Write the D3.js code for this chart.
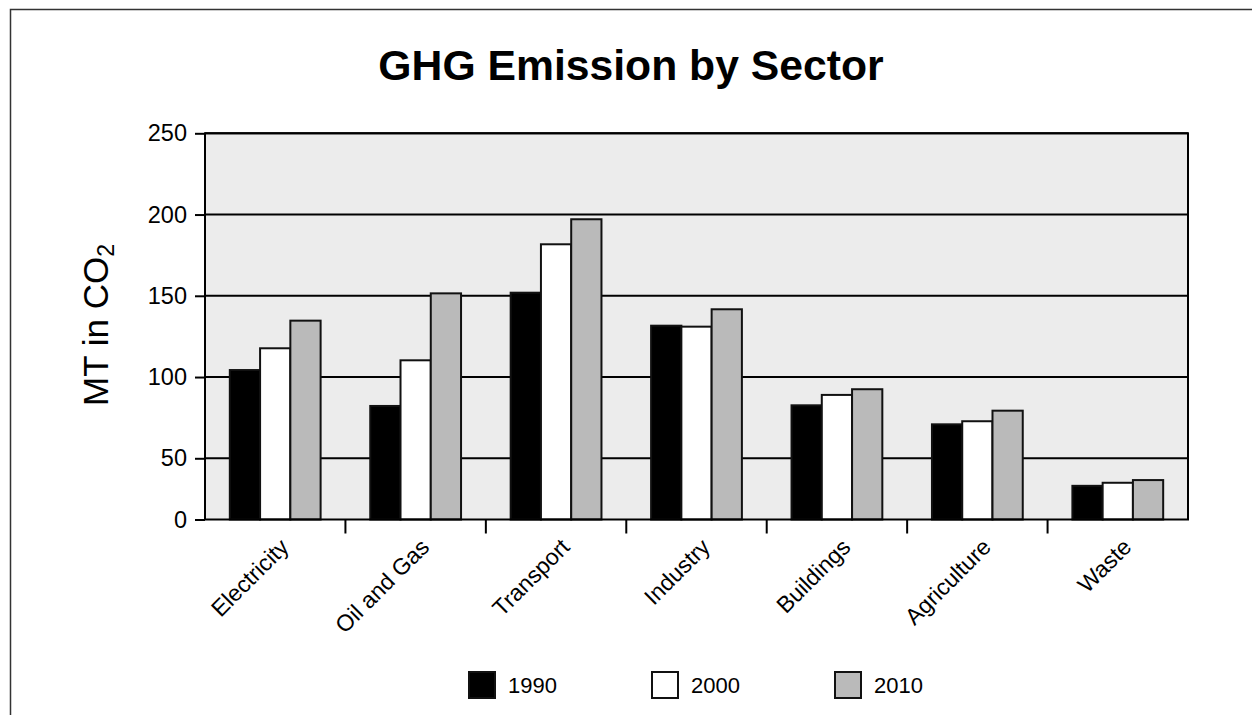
<!DOCTYPE html>
<html>
<head>
<meta charset="utf-8">
<script src="https://cdn.jsdelivr.net/npm/d3@7/dist/d3.min.js"></script>
<style>
  html, body { margin: 0; padding: 0; background: #fff; }
  svg { display: block; font-family: "Liberation Sans", Arial, sans-serif; }
</style>
</head>
<body>
<svg id="chart" width="1252" height="715"></svg>
<script>
// Sectors and emissions (MT CO2) per reference year
const sectors = ["Electricity", "Oil and Gas", "Transport", "Industry", "Buildings", "Agriculture", "Waste"];
const years = ["1990", "2000", "2010"];
const values1990 = [104.3, 82.2, 151.9, 131.6, 82.6, 70.9, 27.5];
const values2000 = [117.7, 110.3, 181.7, 131.0, 89.0, 72.8, 30.0];
const values2010 = [134.7, 151.5, 197.1, 141.7, 92.5, 79.3, 32.2];
const yTicks = [0, 50, 100, 150, 200, 250];

const seriesValues = { "1990": values1990, "2000": values2000, "2010": values2010 };
const fills = { "1990": "#000000", "2000": "#ffffff", "2010": "#bababa" };

const svg = d3.select("#chart");
const W = 1252, H = 715;

// Outer frame (open on the right and bottom edges)
svg.append("path")
  .attr("d", `M10.5,${H} L10.5,9.5 L${W},9.5`)
  .attr("fill", "none")
  .attr("stroke", "#333")
  .attr("stroke-width", 1.5);

const plot = { left: 205, right: 1188, top: 133.3, bottom: 519.5 };
// The lowest interval (0–50) is drawn compressed, so the scale is piecewise
const breakY = plot.bottom - (plot.bottom - plot.top) * 0.1585;

const y = d3.scaleLinear()
  .domain([0, 50, 250])
  .range([plot.bottom, breakY, plot.top]);

const x0 = d3.scaleBand()
  .domain(sectors)
  .range([plot.left, plot.right])
  .paddingInner(0)
  .paddingOuter(0);

const x1 = d3.scaleBand()
  .domain(years)
  .range([0, x0.bandwidth()])
  .paddingInner(0)
  .paddingOuter(0.82);

// Title
svg.append("text")
  .attr("x", 631)
  .attr("y", 80)
  .attr("text-anchor", "middle")
  .attr("font-weight", "bold")
  .attr("font-size", 42.7)
  .attr("fill", "#000")
  .text("GHG Emission by Sector");

// Plot background
svg.append("rect")
  .attr("x", plot.left)
  .attr("y", plot.top)
  .attr("width", plot.right - plot.left)
  .attr("height", plot.bottom - plot.top)
  .attr("fill", "#ececec");

// Horizontal gridlines
svg.append("g")
  .selectAll("line")
  .data(yTicks.filter(d => d > 0))
  .join("line")
  .attr("x1", plot.left)
  .attr("x2", plot.right)
  .attr("y1", d => y(d))
  .attr("y2", d => y(d))
  .attr("stroke", "#000")
  .attr("stroke-width", 2);

// Bars
const groups = svg.append("g")
  .selectAll("g")
  .data(sectors)
  .join("g")
  .attr("transform", d => `translate(${x0(d)},0)`);

groups.selectAll("rect")
  .data((s, i) => years.map(yr => ({ year: yr, value: seriesValues[yr][i] })))
  .join("rect")
  .attr("x", d => x1(d.year))
  .attr("y", d => y(d.value))
  .attr("width", x1.bandwidth())
  .attr("height", d => y(0) - y(d.value))
  .attr("fill", d => fills[d.year])
  .attr("stroke", "#111")
  .attr("stroke-width", 2);

// Plot border
svg.append("rect")
  .attr("x", plot.left)
  .attr("y", plot.top)
  .attr("width", plot.right - plot.left)
  .attr("height", plot.bottom - plot.top)
  .attr("fill", "none")
  .attr("stroke", "#000")
  .attr("stroke-width", 2);

// Y axis
const yAxis = svg.append("g")
  .attr("transform", `translate(${plot.left},0)`)
  .call(d3.axisLeft(y).tickValues(yTicks).tickSize(10).tickPadding(8).tickFormat(d3.format("d")));
yAxis.select(".domain").remove();
yAxis.selectAll(".tick line").attr("stroke", "#000").attr("stroke-width", 2);
yAxis.selectAll(".tick text")
  .attr("font-family", "Liberation Sans, Arial, sans-serif")
  .attr("font-size", 23.5)
  .attr("fill", "#000");

// X axis: ticks mark the boundaries between sectors, labels sit under each sector
const boundaries = sectors.slice(1).map(s => x0(s));
svg.append("g")
  .selectAll("line")
  .data(boundaries)
  .join("line")
  .attr("x1", d => d)
  .attr("x2", d => d)
  .attr("y1", plot.bottom)
  .attr("y2", plot.bottom + 14)
  .attr("stroke", "#000")
  .attr("stroke-width", 2);

svg.append("g")
  .selectAll("text")
  .data(sectors)
  .join("text")
  .attr("transform", d => `translate(${x0(d) + x0.bandwidth() / 2 + 15},${plot.bottom + 29}) rotate(-45)`)
  .attr("text-anchor", "end")
  .attr("font-size", 23)
  .attr("fill", "#000")
  .text(d => d);

// Y axis title with subscript
const yTitle = svg.append("text")
  .attr("transform", `translate(108,325) rotate(-90)`)
  .attr("text-anchor", "middle")
  .attr("font-size", 35)
  .attr("fill", "#000");
yTitle.append("tspan").text("MT in CO");
yTitle.append("tspan").attr("font-size", 23).attr("dy", 6).text("2");

// Legend
const legend = svg.append("g")
  .selectAll("g")
  .data(years)
  .join("g")
  .attr("transform", (d, i) => `translate(${469 + i * 183},672)`);

legend.append("rect")
  .attr("width", 26)
  .attr("height", 26)
  .attr("fill", d => fills[d])
  .attr("stroke", "#111")
  .attr("stroke-width", 2);

legend.append("text")
  .attr("x", 39)
  .attr("y", 21)
  .attr("font-size", 22)
  .attr("fill", "#000")
  .text(d => d);
</script>
</body>
</html>
